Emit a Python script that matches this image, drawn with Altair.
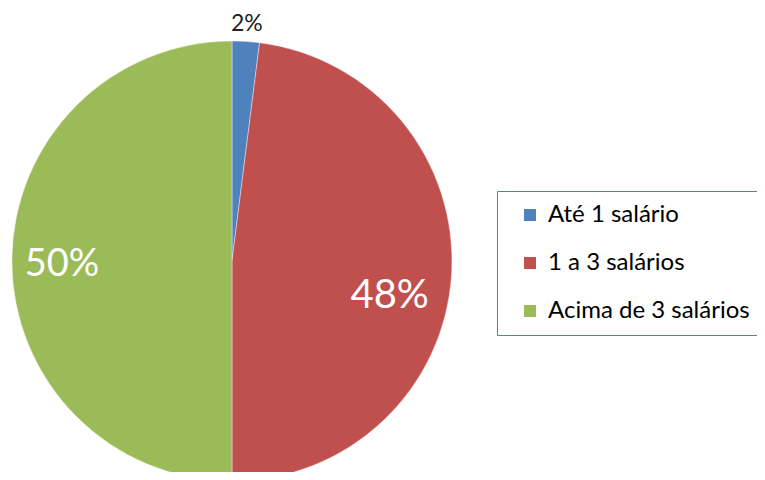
import altair as alt
import pandas as pd

categorias = ["Até 1 salário", "1 a 3 salários", "Acima de 3 salários"]
valores = [2, 48, 50]
rotulos = ["2%", "48%", "50%"]
ordem = [1, 2, 3]
cores = ["#4F81BD", "#C0504D", "#9BBB59"]

df = pd.DataFrame({"categoria": categorias, "valor": valores, "rotulo": rotulos, "ordem": ordem})

FONT = "Lato"
cx, cy, R = 224, 253, 220

base = alt.Chart(df)

arc = base.mark_arc(outerRadius=R, stroke="white", strokeWidth=0.4).encode(
    theta=alt.Theta("valor:Q", stack=True, scale=alt.Scale(domain=[0, 100])),
    color=alt.Color(
        "categoria:N",
        scale=alt.Scale(domain=categorias, range=cores),
        sort=categorias,
        legend=alt.Legend(
            title=None,
            orient="none",
            legendX=489,
            legendY=183,
            strokeColor="#4F81BD",
            fillColor="white",
            padding=12,
            symbolOffset=9,
            symbolType="square",
            symbolSize=144,
            symbolStrokeWidth=0,
            labelFont=FONT,
            labelFontSize=24,
            labelColor="black",
            labelOffset=6,
            rowPadding=24,
            labelLimit=400,
            labelExpr="datum.label + '          '",
        ),
    ),
    order=alt.Order("ordem:Q"),
    x=alt.value(cx),
    y=alt.value(cy),
)


def label_layer(idx, radius, color, size, dy=0, dx=0):
    return (
        base.transform_window(cum="sum(valor)", sort=[alt.SortField("ordem")])
        .transform_calculate(mid="datum.cum - datum.valor / 2")
        .transform_filter(alt.datum.ordem == ordem[idx])
        .mark_text(radius=radius, font=FONT, fontSize=size, color=color, dy=dy, dx=dx,
                   align="center", baseline="middle")
        .encode(
            theta=alt.Theta("mid:Q", scale=alt.Scale(domain=[0, 100])),
            text="rotulo:N",
            x=alt.value(cx),
            y=alt.value(cy),
        )
    )


t1 = label_layer(0, 237, "#222222", 23)
t2 = label_layer(1, 158, "white", 40, dy=25)
t3 = label_layer(2, 170, "white", 38, dy=4)

chart = (
    alt.layer(arc, t1, t2, t3)
    .resolve_scale(theta="independent")
    .properties(width=749, height=464, padding=0, autosize="none")
    .configure_view(stroke=None)
)

chart.save("out.html", embed_options={"renderer": "svg", "actions": False})
